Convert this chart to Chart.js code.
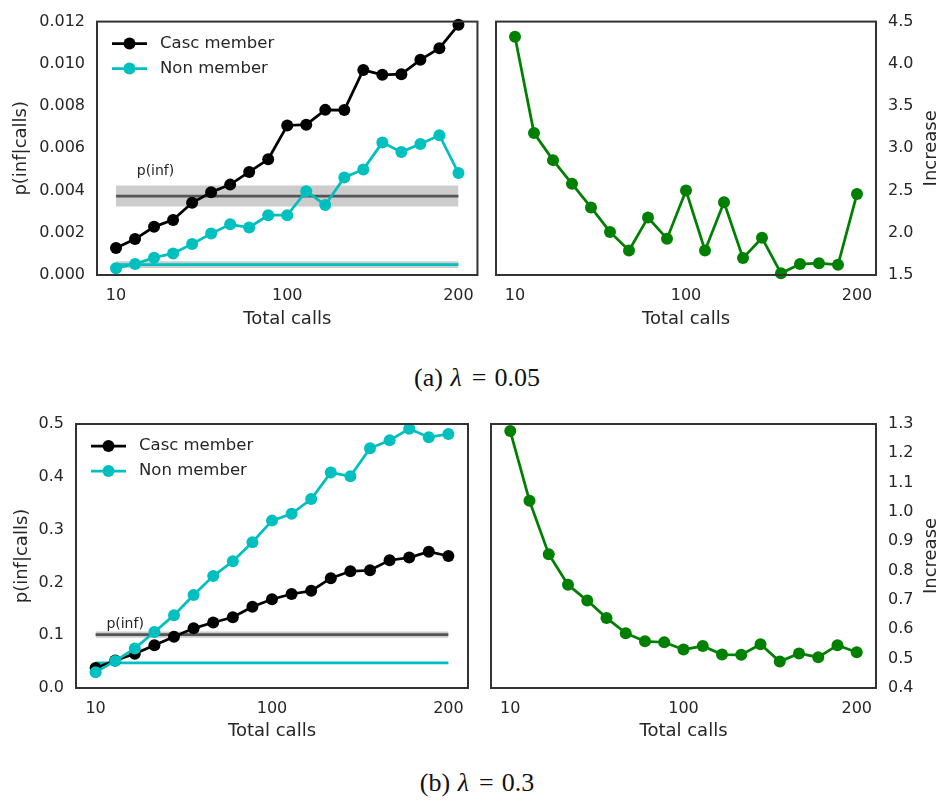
<!DOCTYPE html>
<html>
<head>
<meta charset="utf-8">
<script src="https://cdn.jsdelivr.net/npm/chart.js@4.4.1/dist/chart.umd.min.js"></script>
<style>
  body { margin: 0; background: #fff; width: 940px; height: 807px; position: relative; overflow: hidden; }
  .panel { position: absolute; }
  .cap { position: absolute; left: 0; width: 954px; text-align: center; font-family: "Liberation Serif", "DejaVu Serif", serif; font-size: 26px; color: #111; }
  .cap i { margin: 0 2px 0 1px; }
  .cap .eq { display: inline-block; margin: 0 8px; }
</style>
</head>
<body>
<div class="panel" style="left:0;top:0;width:485px;height:345px"><canvas id="pA1"></canvas></div>
<div class="panel" style="left:485px;top:0;width:455px;height:345px"><canvas id="pA2"></canvas></div>
<div class="cap" style="top:363px">(a) <i>λ</i><span class="eq">=</span>0.05</div>
<div class="panel" style="left:0;top:400px;width:485px;height:345px"><canvas id="pB1"></canvas></div>
<div class="panel" style="left:485px;top:400px;width:455px;height:345px"><canvas id="pB2"></canvas></div>
<div class="cap" style="top:768px">(b) <i>λ</i><span class="eq">=</span>0.3</div>

<script>
// x positions are the 19 call bins; only three of them get a label
const xTickPos = [0, 9, 18];
const xTickText = ["10", "100", "200"];

// (a) lambda = 0.05
const cascA = [0.00128, 0.00170, 0.00228, 0.00261, 0.00342, 0.00392, 0.00428, 0.00488, 0.00548, 0.00708,
               0.00712, 0.00782, 0.00781, 0.00971, 0.00948, 0.00951, 0.01019, 0.01074, 0.01185];
const nonA  = [0.00032, 0.00052, 0.00082, 0.00102, 0.00147, 0.00196, 0.00240, 0.00225, 0.00283, 0.00283,
               0.00397, 0.00331, 0.00462, 0.00500, 0.00627, 0.00583, 0.00620, 0.00662, 0.00483];
const incA  = [4.32, 3.18, 2.86, 2.58, 2.30, 2.01, 1.79, 2.18, 1.93, 2.50,
               1.79, 2.36, 1.70, 1.94, 1.52, 1.63, 1.64, 1.62, 2.46];
const pInfA = [0.00374, 0.0005];      // value, half band
const nonBaseA = [0.00049, 0.00016];

// (b) lambda = 0.3
const cascB = [0.038, 0.052, 0.065, 0.081, 0.097, 0.113, 0.124, 0.134, 0.154, 0.168,
               0.178, 0.184, 0.208, 0.221, 0.223, 0.242, 0.247, 0.258, 0.250];
const nonB  = [0.030, 0.051, 0.075, 0.106, 0.138, 0.176, 0.212, 0.240, 0.276, 0.317,
               0.330, 0.358, 0.408, 0.401, 0.454, 0.469, 0.491, 0.475, 0.481];
const incB  = [1.276, 1.038, 0.856, 0.752, 0.698, 0.639, 0.587, 0.559, 0.556, 0.531,
               0.543, 0.514, 0.513, 0.549, 0.490, 0.518, 0.505, 0.546, 0.522];
const pInfB = [0.101, 0.006];
const nonBaseB = [0.0474, 0.0008];

const FONT = "DejaVu Sans";
const TXT = "#262626";
const CYAN = "#00bfbf";
const n = cascA.length;

// frame around the plot area (all four spines)
const framePlugin = {
    id: "frame",
    afterDatasetsDraw(chart) {
        const a = chart.chartArea, ctx = chart.ctx;
        ctx.save();
        ctx.strokeStyle = "#333";
        ctx.lineWidth = 2;
        ctx.strokeRect(a.left, a.top, a.right - a.left, a.bottom - a.top);
        ctx.restore();
    }
};

// legend drawn inside the plot area, upper left
const innerLegend = {
    id: "innerLegend",
    afterDraw(chart) {
        const items = chart.data.datasets.filter(d => d.legendText);
        if (!items.length) return;
        const a = chart.chartArea, ctx = chart.ctx;
        ctx.save();
        items.forEach((d, i) => {
            const y = a.top + 22 + i * 25;
            ctx.strokeStyle = d.borderColor;
            ctx.lineWidth = 2.75;
            ctx.beginPath();
            ctx.moveTo(a.left + 15, y);
            ctx.lineTo(a.left + 50, y);
            ctx.stroke();
            ctx.fillStyle = d.borderColor;
            ctx.beginPath();
            ctx.arc(a.left + 32.5, y, 6, 0, Math.PI * 2);
            ctx.fill();
            ctx.fillStyle = TXT;
            ctx.font = "16.5px '" + FONT + "'";
            ctx.textBaseline = "middle";
            ctx.fillText(d.legendText, a.left + 63, y);
        });
        ctx.restore();
    }
};

// small "p(inf)" note placed in data coordinates, and the right-hand axis title
const notePlugin = {
    id: "note",
    afterDraw(chart, args, opts) {
        const ctx = chart.ctx, a = chart.chartArea;
        ctx.save();
        ctx.fillStyle = TXT;
        ctx.textBaseline = "middle";
        if (opts.text) {
            ctx.font = "14px '" + FONT + "'";
            ctx.fillText(opts.text, chart.scales.x.getPixelForValue(opts.x), chart.scales.y.getPixelForValue(opts.y));
        }
        if (opts.rightTitle) {
            ctx.font = "18px '" + FONT + "'";
            ctx.textAlign = "center";
            ctx.translate(chart.width - 9, (a.top + a.bottom) / 2);
            ctx.rotate(-Math.PI / 2);
            ctx.fillText(opts.rightTitle, 0, 0);
        }
        ctx.restore();
    }
};

function pts(arr) {
    return arr.map((y, i) => ({x: i, y: y}));
}
function flat(v) {
    return [{x: 0, y: v}, {x: n - 1, y: v}];
}
function series(arr, color, order, label) {
    return {
        data: pts(arr), borderColor: color, backgroundColor: color,
        borderWidth: 2.75, pointRadius: 6, pointHoverRadius: 6, pointBorderWidth: 0,
        order: order, clip: false, legendText: label
    };
}
// band (lower, upper filled) + center line
function baseline(b, lineColor) {
    return [
        {data: flat(b[0] - b[1]), borderWidth: 0, pointRadius: 0, fill: false, order: 6},
        {data: flat(b[0] + b[1]), borderWidth: 0, pointRadius: 0, fill: "-1", backgroundColor: "#cccccc", order: 5},
        {data: flat(b[0]), borderColor: lineColor, borderWidth: 2.75, pointRadius: 0, fill: false, order: 4}
    ];
}

function xAxis(h, titlePad) {
    return {
        type: "linear", min: -1, max: n,
        afterBuildTicks: s => { s.ticks = xTickPos.map(v => ({value: v})); },
        afterFit: s => { s.height = h; },
        ticks: {
            callback: v => xTickText[xTickPos.indexOf(v)],
            font: {family: FONT, size: 16}, color: TXT, padding: 11, maxRotation: 0, autoSkip: false
        },
        grid: {display: false, drawTicks: false},
        border: {display: false},
        title: {display: true, text: "Total calls", color: TXT, font: {family: FONT, size: 18, lineHeight: 1},
                padding: {top: 0, bottom: titlePad}}
    };
}
function yAxis(pos, min, max, step, dec, w, title, titlePad) {
    return {
        position: pos, min: min, max: max,
        afterFit: s => { s.width = w; },
        ticks: {
            stepSize: step, callback: v => v.toFixed(dec),
            font: {family: FONT, size: 16}, color: TXT, padding: 12, autoSkip: false
        },
        grid: {display: false, drawTicks: false},
        border: {display: false},
        title: {display: pos === "left", text: title, color: TXT, font: {family: FONT, size: 18, lineHeight: 1},
                padding: {top: titlePad, bottom: 0}}
    };
}

function makePanel(id, datasets, scales, padding, note) {
    new Chart(id, {
        type: "line",
        data: {datasets: datasets},
        options: {
            responsive: true, maintainAspectRatio: false, animation: false,
            layout: {padding: padding},
            scales: scales,
            plugins: {legend: {display: false}, tooltip: {enabled: false}, note: note || {}}
        },
        plugins: [framePlugin, innerLegend, notePlugin]
    });
}

makePanel("pA1",
    [series(cascA, "#000", 1, "Casc member"), series(nonA, CYAN, 0, "Non member")]
        .concat(baseline(pInfA, "#555")).concat(baseline(nonBaseA, CYAN)),
    {x: xAxis(70, 17), y: yAxis("left", 0, 0.012, 0.002, 3, 97, "p(inf|calls)", 12)},
    {top: 12, right: 6, left: 0, bottom: 0},
    {text: "p(inf)", x: 1.09, y: 0.00493});

makePanel("pA2",
    [series(incA, "#008000", 0)],
    {x: xAxis(70, 17), y: yAxis("right", 1.5, 4.5, 0.5, 1, 64, "Increase", 0)},
    {top: 12, right: 0, left: 11, bottom: 0},
    {rightTitle: "Increase"});

makePanel("pB1",
    [series(cascB, "#000", 1, "Casc member"), series(nonB, CYAN, 0, "Non member")]
        .concat(baseline(pInfB, "#555")).concat(baseline(nonBaseB, CYAN)),
    {x: xAxis(57, 5), y: yAxis("left", 0, 0.5, 0.1, 1, 76, "p(inf|calls)", 13)},
    {top: 24, right: 17, left: 0, bottom: 0},
    {text: "p(inf)", x: 0.55, y: 0.12});

makePanel("pB2",
    [series(incB, "#008000", 0)],
    {x: xAxis(57, 5), y: yAxis("right", 0.4, 1.3, 0.1, 1, 64, "Increase", 0)},
    {top: 24, right: 0, left: 0, bottom: 0},
    {rightTitle: "Increase"});
</script>
</body>
</html>
